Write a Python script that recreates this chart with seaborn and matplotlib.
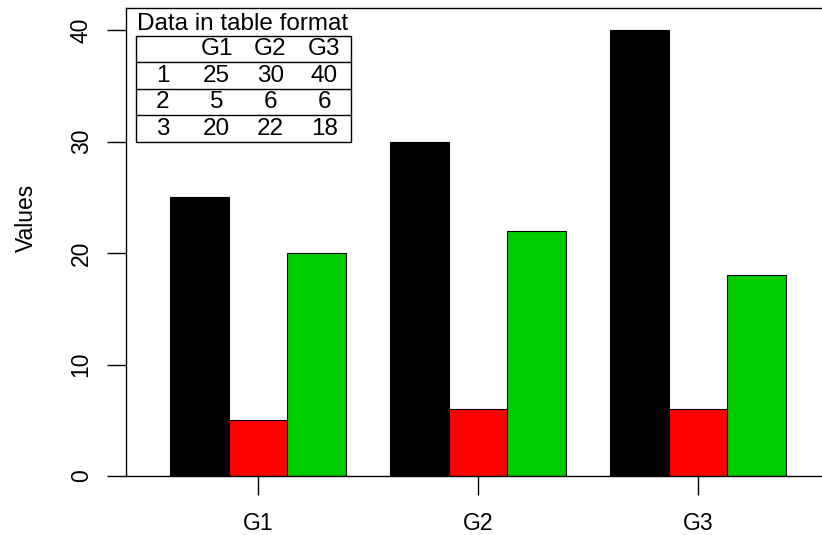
import numpy as np
import pandas as pd
import seaborn as sns
import matplotlib
matplotlib.use("Agg")
import matplotlib.pyplot as plt

# data
groups = ['G1', 'G2', 'G3']
rows = ['1', '2', '3']
row1 = [25, 30, 40]
row2 = [5, 6, 6]
row3 = [20, 22, 18]
bar_colors = ['#000000', '#FF0000', '#00CD00']
y_ticks = [0, 10, 20, 30, 40]

sns.set_theme(style='ticks')
plt.rcParams['font.family'] = ['Liberation Sans', 'DejaVu Sans']
plt.rcParams['text.color'] = 'black'

df = pd.DataFrame({'group': groups * 3,
                   'row': [r for r in rows for _ in groups],
                   'value': row1 + row2 + row3})

fig = plt.figure(figsize=(8.22, 5.35), dpi=100)
W, H = 822, 535
ax = fig.add_axes([126 / W, (H - 476) / H, (W - 126) / W, (476 - 8) / H])

sns.barplot(data=df, x='group', y='value', hue='row', order=groups,
            hue_order=rows, palette=bar_colors, edgecolor='black',
            linewidth=0.8, width=0.8, gap=0, errorbar=None, legend=False,
            saturation=1, ax=ax)

ax.set_xlim(-0.6, (W - 258) / 220)
ax.set_ylim(0, 42)
ax.set_yticks(y_ticks)
ax.set_yticklabels([str(t) for t in y_ticks], rotation=90, va='center')
ax.set_xlabel('')
ax.set_ylabel('Values', fontsize=16.5, color='black')
ax.yaxis.set_label_coords(-0.127, 0.551)
ax.tick_params(axis='both', direction='out', length=14, width=1,
               labelsize=16.5, colors='black')
ax.tick_params(axis='y', pad=10)
ax.tick_params(axis='x', pad=12)
for s in ['left', 'top', 'bottom']:
    ax.spines[s].set_color('black')
    ax.spines[s].set_linewidth(1.0)
ax.spines['right'].set_visible(False)

# table inset
tab = [row1, row2, row3]
fs = 17.5
tax = fig.add_axes([136 / W, (H - 142) / H, 215 / W, 106 / H])
tax.set_xlim(0, 4)
tax.set_ylim(4, 0)
tax.set_axis_off()
tax.plot([0, 4, 4, 0, 0], [0, 0, 4, 4, 0], color='black', lw=1,
         clip_on=False)
for i in range(1, 4):
    tax.plot([0, 4], [i, i], color='black', lw=1, clip_on=False)
for j, g in enumerate(groups):
    tax.text(j + 1.5, 0.5, g, ha='center', va='center', fontsize=fs)
for i, r in enumerate(rows):
    tax.text(0.5, i + 1.5, r, ha='center', va='center', fontsize=fs)
    for j in range(3):
        tax.text(j + 1.5, i + 1.5, str(tab[i][j]), ha='center',
                 va='center', fontsize=fs)
tax.text(0.02, -0.22, 'Data in table format', ha='left', va='baseline',
         fontsize=fs)

fig.savefig('out.png', dpi=100)
